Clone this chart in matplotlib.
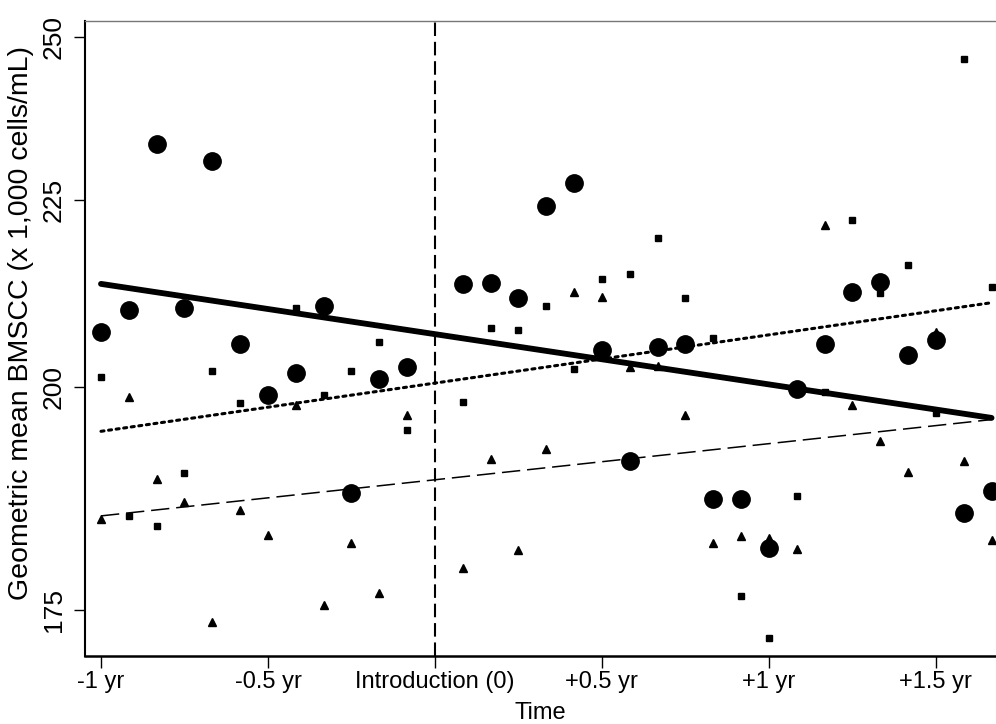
import numpy as np
import matplotlib.pyplot as plt

plt.rcParams['font.family'] = ['Liberation Sans', 'DejaVu Sans']

# months relative to introduction (no observation at month 0)
months = [m for m in range(-12, 21) if m != 0]

# geometric mean BMSCC per month, three series
circles = [207.0, 209.9, 233.1, 210.1, 230.6, 205.4, 199.1, 201.8, 210.4, 187.6, 201.0, 202.5,
           213.3, 213.4, 211.4, 224.1, 227.4, 204.7, 191.2, 205.0, 205.4, 186.9,
           186.9, 181.5, 199.8, 205.4, 212.2, 213.6, 204.0, 206.0, 185.3, 187.8]
squares = [201.3, 185.0, 183.9, 189.8, 202.1, 198.1, 199.0, 210.1, 199.1, 202.1, 205.7, 194.8,
           198.2, 207.5, 207.2, 210.4, 202.3, 213.9, 214.6, 219.5, 211.4, 206.2,
           176.4, 172.1, 187.2, 199.4, 222.1, 212.1, 215.9, 196.9, 246.4, 212.9]
triangles = [184.7, 198.8, 189.1, 186.6, 173.7, 185.7, 182.9, 197.9, 175.5, 182.0, 176.7, 196.7,
             179.3, 191.4, 181.3, 192.6, 212.2, 211.6, 202.5, 202.7, 196.7, 182.0,
             182.8, 182.6, 181.4, 221.4, 197.9, 193.6, 190.0, 207.0, 191.2, 182.4]

# fitted trends: value at first and last month
trend_x = [-12, 20]
trend_circles = [213.3, 196.3]
trend_squares = [194.7, 210.8]
trend_triangles = [185.0, 196.1]

tick_pos = [-1, -0.5, 0, 0.5, 1, 1.5]
tick_labels = ['-1 yr', '-0.5 yr', 'Introduction (0)', '+0.5 yr', '+1 yr', '+1.5 yr']
ytick_pos = [175, 200, 225, 250]

x = np.array(months) / 12.0
tx = np.array(trend_x) / 12.0

fig = plt.figure(figsize=(9.96, 7.24), dpi=100)
ax = fig.add_axes([0.0853, 0.094, 1 - 0.0853, 0.971 - 0.094])

ax.set_yscale('function', functions=(lambda v: np.log(np.maximum(v - 50, 1e-9)),
                                     lambda t: np.exp(t) + 50))

ax.axvline(0, color='black', lw=1.5, dashes=(6.5, 2.8), zorder=1)

ax.plot(x, circles, 'o', color='black', ms=12.5, zorder=3)
ax.plot(x, squares, 's', color='black', ms=5, zorder=3)
ax.plot(x, triangles, '^', color='black', ms=6, zorder=3)

ax.plot(tx, trend_circles, '-', color='black', lw=4.2, solid_capstyle='round', zorder=4)
ax.plot(tx, trend_squares, color='black', lw=2.2, ls=(0, (1, 1.5)), dash_capstyle='round', zorder=4)
ax.plot(tx, trend_triangles, color='black', lw=1.1, dashes=(12, 4.5), zorder=4)

ax.set_xlim(-1.048, 1.680)
ax.set_ylim(170.35, 252.6)

ax.set_xticks(tick_pos)
ax.set_xticklabels(tick_labels)
ax.set_yticks(ytick_pos)
ax.set_yticklabels([str(v) for v in ytick_pos], rotation=90, va='center')
ax.yaxis.set_minor_locator(plt.NullLocator())

ax.tick_params(axis='x', length=8.5, width=1, labelsize=17, pad=2)
ax.tick_params(axis='y', length=8, width=1, labelsize=19, pad=6)

ax.spines['top'].set_color('#777777')
ax.spines['top'].set_linewidth(1)
ax.spines['right'].set_visible(False)
ax.spines['left'].set_linewidth(1.5)
ax.spines['bottom'].set_linewidth(1.8)

ax.set_xlabel('Time', fontsize=17, labelpad=7)
ax.set_ylabel('Geometric mean BMSCC (x 1,000 cells/mL)', fontsize=20.5)
ax.yaxis.set_label_coords(-0.056, 0.525)

fig.savefig('out.png', dpi=100)
